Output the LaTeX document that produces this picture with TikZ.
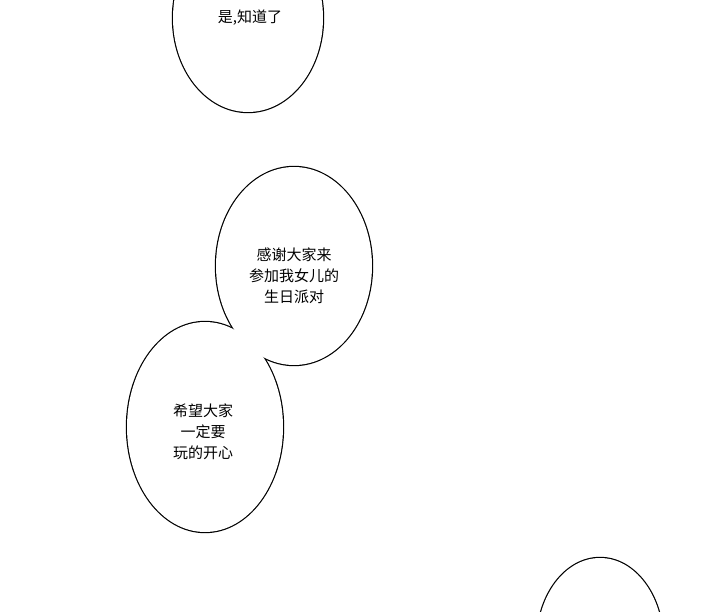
\documentclass[tikz,border=0pt]{standalone}
\usepackage{fontspec}
\newfontfamily\cjk{Noto Sans CJK SC}
\begin{document}
\begin{tikzpicture}[x=1pt,y=-1pt]
\tikzset{bub/.style={draw=black,line width=2.4pt},bubfill/.style={fill=white},txt/.style={font=\cjk\fontsize{15}{21}\selectfont,align=center}}
\useasboundingbox (0,0) rectangle (720,612);
\clip (0,0) rectangle (720,612);
\fill[white] (0,0) rectangle (720,612);
% strokes
\draw[bub] (248,18) ellipse [x radius=75, y radius=94];
\draw[bub] (294,266) ellipse [x radius=78, y radius=99];
\draw[bub] (205,427) ellipse [x radius=78, y radius=105];
\draw[bub] (600,642) ellipse [x radius=63, y radius=84];
% fills
\fill[bubfill] (248,18) ellipse [x radius=75, y radius=94];
\fill[bubfill] (294,266) ellipse [x radius=78, y radius=99];
\fill[bubfill] (205,427) ellipse [x radius=78, y radius=105];
\fill[bubfill] (600,642) ellipse [x radius=63, y radius=84];
\node[txt] (t1) at (250,18) {是,知道了};
\node[txt] (t2) at (294,276) {感谢大家来\\参加我女儿的\\生日派对};
\node[txt] (t3) at (203,432) {希望大家\\一定要\\玩的开心};
\end{tikzpicture}
\end{document}
